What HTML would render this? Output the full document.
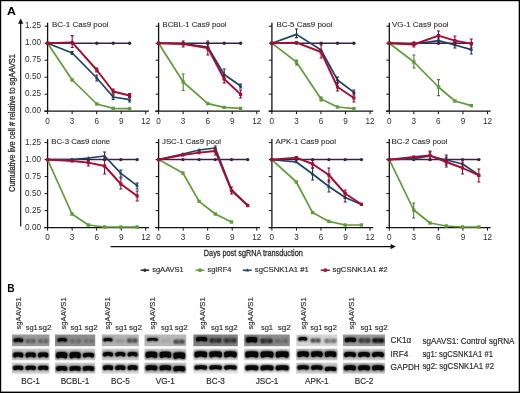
<!DOCTYPE html>
<html><head><meta charset="utf-8"><title>Figure</title><style>
html,body{margin:0;padding:0;background:#fff;}
body{width:520px;height:393px;overflow:hidden;}
svg{display:block;font-family:"Liberation Sans",sans-serif;will-change:transform;}
.tk{font-size:8.2px;fill:#2e2e2e;}
.ti{font-size:8.1px;fill:#2e2e2e;stroke:#2e2e2e;stroke-width:0.12px;}
.ln{font-size:7.9px;fill:#2e2e2e;stroke:#2e2e2e;stroke-width:0.15px;}
.bl{font-size:8.2px;fill:#2e2e2e;stroke:#2e2e2e;stroke-width:0.18px;}
.lg{font-size:7.6px;fill:#2e2e2e;stroke:#2e2e2e;stroke-width:0.15px;}
</style></head><body>
<svg width="520" height="393" viewBox="0 0 520 393">
<defs><filter id="bl" x="-20%" y="-40%" width="140%" height="180%"><feGaussianBlur stdDeviation="0.8"/></filter><filter id="bl2" x="-30%" y="-60%" width="160%" height="220%"><feGaussianBlur stdDeviation="0.9"/></filter></defs>
<rect width="520" height="393" fill="#fff"/>
<text transform="translate(6.9 14.6) scale(1.14 1)" font-size="10.8" font-weight="bold" fill="#000">A</text>
<text x="7.3" y="292" font-size="10.2" font-weight="bold" fill="#000">B</text>
<text class="yl" transform="translate(14.8 192) rotate(-90)" font-size="9.2" fill="#2e2e2e" stroke="#2e2e2e" stroke-width="0.3" textLength="138" lengthAdjust="spacingAndGlyphs">Cumulative live cell # relative to sgAAVS1</text>
<path d="M20.7 22.5V226.4" stroke="#111" stroke-width="1.2"/>
<path d="M20.7 18.6l2.6 5.2h-5.2z" fill="#111"/>
<path d="M47.6 22.7V111.2" stroke="#111" stroke-width="1.3"/>
<path d="M44.3 111.2H148.96" stroke="#111" stroke-width="1.3"/>
<path d="M44.6 111.2h3M44.6 94.2h3M44.6 77.2h3M44.6 60.2h3M44.6 43.2h3M44.6 26.2h3M47.6 111.2v3M72.14 111.2v3M96.68 111.2v3M121.22 111.2v3M145.76 111.2v3" stroke="#111" stroke-width="1"/>
<text x="47.6" y="123.5" text-anchor="middle" class="tk">0</text>
<text x="72.14" y="123.5" text-anchor="middle" class="tk">3</text>
<text x="96.68" y="123.5" text-anchor="middle" class="tk">6</text>
<text x="121.22" y="123.5" text-anchor="middle" class="tk">9</text>
<text x="145.76" y="123.5" text-anchor="middle" class="tk">12</text>
<text x="41" y="113.3" text-anchor="end" class="tk">0.00</text>
<text x="41" y="96.3" text-anchor="end" class="tk">0.25</text>
<text x="41" y="79.3" text-anchor="end" class="tk">0.50</text>
<text x="41" y="62.3" text-anchor="end" class="tk">0.75</text>
<text x="41" y="45.3" text-anchor="end" class="tk">1.00</text>
<text x="41" y="28.3" text-anchor="end" class="tk">1.25</text>
<text x="52" y="27" class="ti" textLength="56.4" lengthAdjust="spacingAndGlyphs">BC-1 Cas9 pool</text>
<path d="M47.6 43.2 L72.2 80 L96.8 104 L113.2 108.4 L129.6 108.6" fill="none" stroke="#619b3b" stroke-width="1.7" stroke-linejoin="round"/>
<rect x="45.9" y="41.5" width="3.4" height="3.4" fill="#619b3b"/>
<rect x="70.5" y="78.3" width="3.4" height="3.4" fill="#619b3b"/>
<rect x="95.1" y="102.3" width="3.4" height="3.4" fill="#619b3b"/>
<rect x="111.5" y="106.7" width="3.4" height="3.4" fill="#619b3b"/>
<rect x="127.9" y="106.9" width="3.4" height="3.4" fill="#619b3b"/>
<path d="M47.6 43.2 L72.2 43.2 L96.8 43.2 L113.2 43.2 L129.6 43.2" fill="none" stroke="#3a2244" stroke-width="1.5" stroke-linejoin="round"/>
<circle cx="47.6" cy="43.2" r="1.7" fill="#3a2244"/>
<circle cx="72.2" cy="43.2" r="1.7" fill="#3a2244"/>
<circle cx="96.8" cy="43.2" r="1.7" fill="#3a2244"/>
<circle cx="113.2" cy="43.2" r="1.7" fill="#3a2244"/>
<circle cx="129.6" cy="43.2" r="1.7" fill="#3a2244"/>
<path d="M47.6 43.2 L72.2 53 L96.8 78 L113.2 97 L129.6 99.6" fill="none" stroke="#1f4264" stroke-width="1.7" stroke-linejoin="round"/>
<path d="M47.6 41.2l1.9 3.2h-3.8z" fill="#1f4264"/>
<path d="M72.2 51.5V54.5M70.7 51.5h3M70.7 54.5h3" stroke="#18334e" stroke-width="1.05" fill="none"/>
<path d="M72.2 51l1.9 3.2h-3.8z" fill="#1f4264"/>
<path d="M96.8 75V81M95.3 75h3M95.3 81h3" stroke="#18334e" stroke-width="1.05" fill="none"/>
<path d="M96.8 76l1.9 3.2h-3.8z" fill="#1f4264"/>
<path d="M113.2 95V99.5M111.7 95h3M111.7 99.5h3" stroke="#18334e" stroke-width="1.05" fill="none"/>
<path d="M113.2 95l1.9 3.2h-3.8z" fill="#1f4264"/>
<path d="M129.6 97.5V102M128.1 97.5h3M128.1 102h3" stroke="#18334e" stroke-width="1.05" fill="none"/>
<path d="M129.6 97.6l1.9 3.2h-3.8z" fill="#1f4264"/>
<path d="M47.6 43.2 L72.2 42.4 L96.8 70 L113.2 91.5 L129.6 95.5" fill="none" stroke="#a60d34" stroke-width="1.9" stroke-linejoin="round"/>
<rect x="46" y="41.6" width="3.2" height="3.2" fill="#a60d34"/>
<path d="M72.2 35.6V47.5M70.7 35.6h3M70.7 47.5h3" stroke="#810a28" stroke-width="1.05" fill="none"/>
<rect x="70.6" y="40.8" width="3.2" height="3.2" fill="#a60d34"/>
<path d="M96.8 68V72M95.3 68h3M95.3 72h3" stroke="#810a28" stroke-width="1.05" fill="none"/>
<rect x="95.2" y="68.4" width="3.2" height="3.2" fill="#a60d34"/>
<path d="M113.2 89V94M111.7 89h3M111.7 94h3" stroke="#810a28" stroke-width="1.05" fill="none"/>
<rect x="111.6" y="89.9" width="3.2" height="3.2" fill="#a60d34"/>
<path d="M129.6 93.5V97.5M128.1 93.5h3M128.1 97.5h3" stroke="#810a28" stroke-width="1.05" fill="none"/>
<rect x="128" y="93.9" width="3.2" height="3.2" fill="#a60d34"/>
<path d="M158.6 22.7V111.2" stroke="#111" stroke-width="1.3"/>
<path d="M155.3 111.2H259.96" stroke="#111" stroke-width="1.3"/>
<path d="M155.6 111.2h3M155.6 94.2h3M155.6 77.2h3M155.6 60.2h3M155.6 43.2h3M155.6 26.2h3M158.6 111.2v3M183.14 111.2v3M207.68 111.2v3M232.22 111.2v3M256.76 111.2v3" stroke="#111" stroke-width="1"/>
<text x="158.6" y="123.5" text-anchor="middle" class="tk">0</text>
<text x="183.14" y="123.5" text-anchor="middle" class="tk">3</text>
<text x="207.68" y="123.5" text-anchor="middle" class="tk">6</text>
<text x="232.22" y="123.5" text-anchor="middle" class="tk">9</text>
<text x="256.76" y="123.5" text-anchor="middle" class="tk">12</text>
<text x="162.6" y="27" class="ti" textLength="64" lengthAdjust="spacingAndGlyphs">BCBL-1 Cas9 pool</text>
<path d="M158.6 43.2 L183.2 82 L207.8 103.6 L224.2 107.4 L240.6 108.4" fill="none" stroke="#619b3b" stroke-width="1.7" stroke-linejoin="round"/>
<rect x="156.9" y="41.5" width="3.4" height="3.4" fill="#619b3b"/>
<path d="M183.2 74V90.4M181.7 74h3M181.7 90.4h3" stroke="#4b782e" stroke-width="1.05" fill="none"/>
<rect x="181.5" y="80.3" width="3.4" height="3.4" fill="#619b3b"/>
<rect x="206.1" y="101.9" width="3.4" height="3.4" fill="#619b3b"/>
<rect x="222.5" y="105.7" width="3.4" height="3.4" fill="#619b3b"/>
<rect x="238.9" y="106.7" width="3.4" height="3.4" fill="#619b3b"/>
<path d="M158.6 43.2 L183.2 43.2 L207.8 43.2 L224.2 43.2 L240.6 43.2" fill="none" stroke="#3a2244" stroke-width="1.5" stroke-linejoin="round"/>
<circle cx="158.6" cy="43.2" r="1.7" fill="#3a2244"/>
<circle cx="183.2" cy="43.2" r="1.7" fill="#3a2244"/>
<circle cx="207.8" cy="43.2" r="1.7" fill="#3a2244"/>
<circle cx="224.2" cy="43.2" r="1.7" fill="#3a2244"/>
<circle cx="240.6" cy="43.2" r="1.7" fill="#3a2244"/>
<path d="M158.6 43.2 L183.2 43.5 L207.8 47 L224.2 74.5 L240.6 86" fill="none" stroke="#1f4264" stroke-width="1.7" stroke-linejoin="round"/>
<path d="M158.6 41.2l1.9 3.2h-3.8z" fill="#1f4264"/>
<path d="M183.2 41.5l1.9 3.2h-3.8z" fill="#1f4264"/>
<path d="M207.8 44V50M206.3 44h3M206.3 50h3" stroke="#18334e" stroke-width="1.05" fill="none"/>
<path d="M207.8 45l1.9 3.2h-3.8z" fill="#1f4264"/>
<path d="M224.2 69V79M222.7 69h3M222.7 79h3" stroke="#18334e" stroke-width="1.05" fill="none"/>
<path d="M224.2 72.5l1.9 3.2h-3.8z" fill="#1f4264"/>
<path d="M240.6 84V88M239.1 84h3M239.1 88h3" stroke="#18334e" stroke-width="1.05" fill="none"/>
<path d="M240.6 84l1.9 3.2h-3.8z" fill="#1f4264"/>
<path d="M158.6 43.2 L183.2 44 L207.8 48 L224.2 79 L240.6 94.4" fill="none" stroke="#a60d34" stroke-width="1.9" stroke-linejoin="round"/>
<rect x="157" y="41.6" width="3.2" height="3.2" fill="#a60d34"/>
<path d="M183.2 41V47M181.7 41h3M181.7 47h3" stroke="#810a28" stroke-width="1.05" fill="none"/>
<rect x="181.6" y="42.4" width="3.2" height="3.2" fill="#a60d34"/>
<path d="M207.8 41V55M206.3 41h3M206.3 55h3" stroke="#810a28" stroke-width="1.05" fill="none"/>
<rect x="206.2" y="46.4" width="3.2" height="3.2" fill="#a60d34"/>
<path d="M224.2 75V83M222.7 75h3M222.7 83h3" stroke="#810a28" stroke-width="1.05" fill="none"/>
<rect x="222.6" y="77.4" width="3.2" height="3.2" fill="#a60d34"/>
<path d="M240.6 90V98M239.1 90h3M239.1 98h3" stroke="#810a28" stroke-width="1.05" fill="none"/>
<rect x="239" y="92.8" width="3.2" height="3.2" fill="#a60d34"/>
<path d="M271.9 22.7V111.2" stroke="#111" stroke-width="1.3"/>
<path d="M268.6 111.2H373.26" stroke="#111" stroke-width="1.3"/>
<path d="M268.9 111.2h3M268.9 94.2h3M268.9 77.2h3M268.9 60.2h3M268.9 43.2h3M268.9 26.2h3M271.9 111.2v3M296.44 111.2v3M320.98 111.2v3M345.52 111.2v3M370.06 111.2v3" stroke="#111" stroke-width="1"/>
<text x="271.9" y="123.5" text-anchor="middle" class="tk">0</text>
<text x="296.44" y="123.5" text-anchor="middle" class="tk">3</text>
<text x="320.98" y="123.5" text-anchor="middle" class="tk">6</text>
<text x="345.52" y="123.5" text-anchor="middle" class="tk">9</text>
<text x="370.06" y="123.5" text-anchor="middle" class="tk">12</text>
<text x="276.4" y="27" class="ti" textLength="56" lengthAdjust="spacingAndGlyphs">BC-5 Cas9 pool</text>
<path d="M271.9 43.2 L296.5 62.2 L321.1 99 L337.5 107 L353.9 108.6" fill="none" stroke="#619b3b" stroke-width="1.7" stroke-linejoin="round"/>
<rect x="270.2" y="41.5" width="3.4" height="3.4" fill="#619b3b"/>
<path d="M296.5 60V65M295 60h3M295 65h3" stroke="#4b782e" stroke-width="1.05" fill="none"/>
<rect x="294.8" y="60.5" width="3.4" height="3.4" fill="#619b3b"/>
<path d="M321.1 97V101M319.6 97h3M319.6 101h3" stroke="#4b782e" stroke-width="1.05" fill="none"/>
<rect x="319.4" y="97.3" width="3.4" height="3.4" fill="#619b3b"/>
<rect x="335.8" y="105.3" width="3.4" height="3.4" fill="#619b3b"/>
<rect x="352.2" y="106.9" width="3.4" height="3.4" fill="#619b3b"/>
<path d="M271.9 43.2 L296.5 43.2 L321.1 43.2 L337.5 43.2 L353.9 43.2" fill="none" stroke="#3a2244" stroke-width="1.5" stroke-linejoin="round"/>
<circle cx="271.9" cy="43.2" r="1.7" fill="#3a2244"/>
<circle cx="296.5" cy="43.2" r="1.7" fill="#3a2244"/>
<circle cx="321.1" cy="43.2" r="1.7" fill="#3a2244"/>
<circle cx="337.5" cy="43.2" r="1.7" fill="#3a2244"/>
<circle cx="353.9" cy="43.2" r="1.7" fill="#3a2244"/>
<path d="M271.9 43.2 L296.5 34.4 L321.1 50 L337.5 80 L353.9 92.4" fill="none" stroke="#1f4264" stroke-width="1.7" stroke-linejoin="round"/>
<path d="M271.9 41.2l1.9 3.2h-3.8z" fill="#1f4264"/>
<path d="M296.5 29V37.6M295 29h3M295 37.6h3" stroke="#18334e" stroke-width="1.05" fill="none"/>
<path d="M296.5 32.4l1.9 3.2h-3.8z" fill="#1f4264"/>
<path d="M321.1 48l1.9 3.2h-3.8z" fill="#1f4264"/>
<path d="M337.5 77V83M336 77h3M336 83h3" stroke="#18334e" stroke-width="1.05" fill="none"/>
<path d="M337.5 78l1.9 3.2h-3.8z" fill="#1f4264"/>
<path d="M353.9 90V95M352.4 90h3M352.4 95h3" stroke="#18334e" stroke-width="1.05" fill="none"/>
<path d="M353.9 90.4l1.9 3.2h-3.8z" fill="#1f4264"/>
<path d="M271.9 43.2 L296.5 42.6 L321.1 52 L337.5 87 L353.9 98" fill="none" stroke="#a60d34" stroke-width="1.9" stroke-linejoin="round"/>
<rect x="270.3" y="41.6" width="3.2" height="3.2" fill="#a60d34"/>
<rect x="294.9" y="41" width="3.2" height="3.2" fill="#a60d34"/>
<path d="M321.1 45V58M319.6 45h3M319.6 58h3" stroke="#810a28" stroke-width="1.05" fill="none"/>
<rect x="319.5" y="50.4" width="3.2" height="3.2" fill="#a60d34"/>
<path d="M337.5 83V91M336 83h3M336 91h3" stroke="#810a28" stroke-width="1.05" fill="none"/>
<rect x="335.9" y="85.4" width="3.2" height="3.2" fill="#a60d34"/>
<path d="M353.9 93V102M352.4 93h3M352.4 102h3" stroke="#810a28" stroke-width="1.05" fill="none"/>
<rect x="352.3" y="96.4" width="3.2" height="3.2" fill="#a60d34"/>
<path d="M389.3 22.7V111.2" stroke="#111" stroke-width="1.3"/>
<path d="M386 111.2H490.66" stroke="#111" stroke-width="1.3"/>
<path d="M386.3 111.2h3M386.3 94.2h3M386.3 77.2h3M386.3 60.2h3M386.3 43.2h3M386.3 26.2h3M389.3 111.2v3M413.84 111.2v3M438.38 111.2v3M462.92 111.2v3M487.46 111.2v3" stroke="#111" stroke-width="1"/>
<text x="389.3" y="123.5" text-anchor="middle" class="tk">0</text>
<text x="413.84" y="123.5" text-anchor="middle" class="tk">3</text>
<text x="438.38" y="123.5" text-anchor="middle" class="tk">6</text>
<text x="462.92" y="123.5" text-anchor="middle" class="tk">9</text>
<text x="487.46" y="123.5" text-anchor="middle" class="tk">12</text>
<text x="392" y="27" class="ti" textLength="56.6" lengthAdjust="spacingAndGlyphs">VG-1 Cas9 pool</text>
<path d="M389.3 43.2 L413.9 62 L438.5 87 L454.9 101 L471.3 105.6" fill="none" stroke="#619b3b" stroke-width="1.7" stroke-linejoin="round"/>
<rect x="387.6" y="41.5" width="3.4" height="3.4" fill="#619b3b"/>
<path d="M413.9 55V68M412.4 55h3M412.4 68h3" stroke="#4b782e" stroke-width="1.05" fill="none"/>
<rect x="412.2" y="60.3" width="3.4" height="3.4" fill="#619b3b"/>
<path d="M438.5 79.6V95.6M437 79.6h3M437 95.6h3" stroke="#4b782e" stroke-width="1.05" fill="none"/>
<rect x="436.8" y="85.3" width="3.4" height="3.4" fill="#619b3b"/>
<rect x="453.2" y="99.3" width="3.4" height="3.4" fill="#619b3b"/>
<rect x="469.6" y="103.9" width="3.4" height="3.4" fill="#619b3b"/>
<path d="M389.3 43.2 L413.9 43.2 L438.5 43.2 L454.9 43.2 L471.3 43.2" fill="none" stroke="#3a2244" stroke-width="1.5" stroke-linejoin="round"/>
<circle cx="389.3" cy="43.2" r="1.7" fill="#3a2244"/>
<circle cx="413.9" cy="43.2" r="1.7" fill="#3a2244"/>
<circle cx="438.5" cy="43.2" r="1.7" fill="#3a2244"/>
<circle cx="454.9" cy="43.2" r="1.7" fill="#3a2244"/>
<circle cx="471.3" cy="43.2" r="1.7" fill="#3a2244"/>
<path d="M389.3 43.2 L413.9 44 L438.5 40.6 L454.9 45 L471.3 49.6" fill="none" stroke="#1f4264" stroke-width="1.7" stroke-linejoin="round"/>
<path d="M389.3 41.2l1.9 3.2h-3.8z" fill="#1f4264"/>
<path d="M413.9 42l1.9 3.2h-3.8z" fill="#1f4264"/>
<path d="M438.5 38V43M437 38h3M437 43h3" stroke="#18334e" stroke-width="1.05" fill="none"/>
<path d="M438.5 38.6l1.9 3.2h-3.8z" fill="#1f4264"/>
<path d="M454.9 41V48M453.4 41h3M453.4 48h3" stroke="#18334e" stroke-width="1.05" fill="none"/>
<path d="M454.9 43l1.9 3.2h-3.8z" fill="#1f4264"/>
<path d="M471.3 45V54M469.8 45h3M469.8 54h3" stroke="#18334e" stroke-width="1.05" fill="none"/>
<path d="M471.3 47.6l1.9 3.2h-3.8z" fill="#1f4264"/>
<path d="M389.3 43.2 L413.9 44.5 L438.5 35.6 L454.9 40.6 L471.3 43.6" fill="none" stroke="#a60d34" stroke-width="1.9" stroke-linejoin="round"/>
<rect x="387.7" y="41.6" width="3.2" height="3.2" fill="#a60d34"/>
<path d="M413.9 42V47M412.4 42h3M412.4 47h3" stroke="#810a28" stroke-width="1.05" fill="none"/>
<rect x="412.3" y="42.9" width="3.2" height="3.2" fill="#a60d34"/>
<path d="M438.5 31V40M437 31h3M437 40h3" stroke="#810a28" stroke-width="1.05" fill="none"/>
<rect x="436.9" y="34" width="3.2" height="3.2" fill="#a60d34"/>
<path d="M454.9 36V45M453.4 36h3M453.4 45h3" stroke="#810a28" stroke-width="1.05" fill="none"/>
<rect x="453.3" y="39" width="3.2" height="3.2" fill="#a60d34"/>
<path d="M471.3 39V48M469.8 39h3M469.8 48h3" stroke="#810a28" stroke-width="1.05" fill="none"/>
<rect x="469.7" y="42" width="3.2" height="3.2" fill="#a60d34"/>
<path d="M47.6 139.1V227.6" stroke="#111" stroke-width="1.3"/>
<path d="M44.3 227.6H148.96" stroke="#111" stroke-width="1.3"/>
<path d="M44.6 227.6h3M44.6 210.6h3M44.6 193.6h3M44.6 176.6h3M44.6 159.6h3M44.6 142.6h3M47.6 227.6v3M72.14 227.6v3M96.68 227.6v3M121.22 227.6v3M145.76 227.6v3" stroke="#111" stroke-width="1"/>
<text x="47.6" y="239.9" text-anchor="middle" class="tk">0</text>
<text x="72.14" y="239.9" text-anchor="middle" class="tk">3</text>
<text x="96.68" y="239.9" text-anchor="middle" class="tk">6</text>
<text x="121.22" y="239.9" text-anchor="middle" class="tk">9</text>
<text x="145.76" y="239.9" text-anchor="middle" class="tk">12</text>
<text x="41" y="230.3" text-anchor="end" class="tk">0.00</text>
<text x="41" y="213.3" text-anchor="end" class="tk">0.25</text>
<text x="41" y="196.3" text-anchor="end" class="tk">0.50</text>
<text x="41" y="179.3" text-anchor="end" class="tk">0.75</text>
<text x="41" y="162.3" text-anchor="end" class="tk">1.00</text>
<text x="41" y="145.3" text-anchor="end" class="tk">1.25</text>
<text x="51.2" y="144.4" class="ti" textLength="59" lengthAdjust="spacingAndGlyphs">BC-3 Cas9 clone</text>
<path d="M47.6 159.6 L72.02 214 L88.3 225 L104.58 227 L120.86 227 L137.14 227" fill="none" stroke="#619b3b" stroke-width="1.7" stroke-linejoin="round"/>
<rect x="45.9" y="157.9" width="3.4" height="3.4" fill="#619b3b"/>
<rect x="70.32" y="212.3" width="3.4" height="3.4" fill="#619b3b"/>
<rect x="86.6" y="223.3" width="3.4" height="3.4" fill="#619b3b"/>
<rect x="102.88" y="225.3" width="3.4" height="3.4" fill="#619b3b"/>
<rect x="119.16" y="225.3" width="3.4" height="3.4" fill="#619b3b"/>
<rect x="135.44" y="225.3" width="3.4" height="3.4" fill="#619b3b"/>
<path d="M47.6 159.6 L72.02 159.6 L88.3 159.6 L104.58 159.6 L120.86 159.6 L137.14 159.6" fill="none" stroke="#3a2244" stroke-width="1.5" stroke-linejoin="round"/>
<circle cx="47.6" cy="159.6" r="1.7" fill="#3a2244"/>
<circle cx="72.02" cy="159.6" r="1.7" fill="#3a2244"/>
<circle cx="88.3" cy="159.6" r="1.7" fill="#3a2244"/>
<circle cx="104.58" cy="159.6" r="1.7" fill="#3a2244"/>
<circle cx="120.86" cy="159.6" r="1.7" fill="#3a2244"/>
<circle cx="137.14" cy="159.6" r="1.7" fill="#3a2244"/>
<path d="M47.6 159.6 L72.02 159.6 L88.3 158 L104.58 156 L120.86 173.4 L137.14 185.6" fill="none" stroke="#1f4264" stroke-width="1.7" stroke-linejoin="round"/>
<path d="M47.6 157.6l1.9 3.2h-3.8z" fill="#1f4264"/>
<path d="M72.02 157.6l1.9 3.2h-3.8z" fill="#1f4264"/>
<path d="M88.3 156l1.9 3.2h-3.8z" fill="#1f4264"/>
<path d="M104.58 152V160M103.08 152h3M103.08 160h3" stroke="#18334e" stroke-width="1.05" fill="none"/>
<path d="M104.58 154l1.9 3.2h-3.8z" fill="#1f4264"/>
<path d="M120.86 170V177M119.36 170h3M119.36 177h3" stroke="#18334e" stroke-width="1.05" fill="none"/>
<path d="M120.86 171.4l1.9 3.2h-3.8z" fill="#1f4264"/>
<path d="M137.14 183V189M135.64 183h3M135.64 189h3" stroke="#18334e" stroke-width="1.05" fill="none"/>
<path d="M137.14 183.6l1.9 3.2h-3.8z" fill="#1f4264"/>
<path d="M47.6 159.6 L72.02 161 L88.3 162.6 L104.58 166 L120.86 184 L137.14 196" fill="none" stroke="#a60d34" stroke-width="1.9" stroke-linejoin="round"/>
<rect x="46" y="158" width="3.2" height="3.2" fill="#a60d34"/>
<rect x="70.42" y="159.4" width="3.2" height="3.2" fill="#a60d34"/>
<path d="M88.3 160V166M86.8 160h3M86.8 166h3" stroke="#810a28" stroke-width="1.05" fill="none"/>
<rect x="86.7" y="161" width="3.2" height="3.2" fill="#a60d34"/>
<path d="M104.58 158V174M103.08 158h3M103.08 174h3" stroke="#810a28" stroke-width="1.05" fill="none"/>
<rect x="102.98" y="164.4" width="3.2" height="3.2" fill="#a60d34"/>
<path d="M120.86 178V189M119.36 178h3M119.36 189h3" stroke="#810a28" stroke-width="1.05" fill="none"/>
<rect x="119.26" y="182.4" width="3.2" height="3.2" fill="#a60d34"/>
<path d="M137.14 191V201M135.64 191h3M135.64 201h3" stroke="#810a28" stroke-width="1.05" fill="none"/>
<rect x="135.54" y="194.4" width="3.2" height="3.2" fill="#a60d34"/>
<path d="M158.6 139.1V227.6" stroke="#111" stroke-width="1.3"/>
<path d="M155.3 227.6H259.96" stroke="#111" stroke-width="1.3"/>
<path d="M155.6 227.6h3M155.6 210.6h3M155.6 193.6h3M155.6 176.6h3M155.6 159.6h3M155.6 142.6h3M158.6 227.6v3M183.14 227.6v3M207.68 227.6v3M232.22 227.6v3M256.76 227.6v3" stroke="#111" stroke-width="1"/>
<text x="158.6" y="239.9" text-anchor="middle" class="tk">0</text>
<text x="183.14" y="239.9" text-anchor="middle" class="tk">3</text>
<text x="207.68" y="239.9" text-anchor="middle" class="tk">6</text>
<text x="232.22" y="239.9" text-anchor="middle" class="tk">9</text>
<text x="256.76" y="239.9" text-anchor="middle" class="tk">12</text>
<text x="162" y="144.4" class="ti" textLength="59" lengthAdjust="spacingAndGlyphs">JSC-1 Cas9 pool</text>
<path d="M158.6 159.6 L182.9 173 L199.1 201.4 L215.3 214 L231.5 222" fill="none" stroke="#619b3b" stroke-width="1.7" stroke-linejoin="round"/>
<rect x="156.9" y="157.9" width="3.4" height="3.4" fill="#619b3b"/>
<rect x="181.2" y="171.3" width="3.4" height="3.4" fill="#619b3b"/>
<rect x="197.4" y="199.7" width="3.4" height="3.4" fill="#619b3b"/>
<rect x="213.6" y="212.3" width="3.4" height="3.4" fill="#619b3b"/>
<rect x="229.8" y="220.3" width="3.4" height="3.4" fill="#619b3b"/>
<path d="M158.6 159.6 L182.9 159.6 L199.1 159.6 L215.3 159.6 L231.5 159.6 L247.7 159.6" fill="none" stroke="#3a2244" stroke-width="1.5" stroke-linejoin="round"/>
<circle cx="158.6" cy="159.6" r="1.7" fill="#3a2244"/>
<circle cx="182.9" cy="159.6" r="1.7" fill="#3a2244"/>
<circle cx="199.1" cy="159.6" r="1.7" fill="#3a2244"/>
<circle cx="215.3" cy="159.6" r="1.7" fill="#3a2244"/>
<circle cx="231.5" cy="159.6" r="1.7" fill="#3a2244"/>
<circle cx="247.7" cy="159.6" r="1.7" fill="#3a2244"/>
<path d="M158.6 159.6 L182.9 154 L199.1 150 L215.3 148 L231.5 189.6 L247.7 205" fill="none" stroke="#1f4264" stroke-width="1.7" stroke-linejoin="round"/>
<path d="M158.6 157.6l1.9 3.2h-3.8z" fill="#1f4264"/>
<path d="M182.9 152l1.9 3.2h-3.8z" fill="#1f4264"/>
<path d="M199.1 148l1.9 3.2h-3.8z" fill="#1f4264"/>
<path d="M215.3 146V150M213.8 146h3M213.8 150h3" stroke="#18334e" stroke-width="1.05" fill="none"/>
<path d="M215.3 146l1.9 3.2h-3.8z" fill="#1f4264"/>
<path d="M231.5 187.6l1.9 3.2h-3.8z" fill="#1f4264"/>
<path d="M247.7 203l1.9 3.2h-3.8z" fill="#1f4264"/>
<path d="M158.6 159.6 L182.9 155 L199.1 152.6 L215.3 151 L231.5 190.6 L247.7 205.6" fill="none" stroke="#a60d34" stroke-width="1.9" stroke-linejoin="round"/>
<rect x="157" y="158" width="3.2" height="3.2" fill="#a60d34"/>
<rect x="181.3" y="153.4" width="3.2" height="3.2" fill="#a60d34"/>
<rect x="197.5" y="151" width="3.2" height="3.2" fill="#a60d34"/>
<path d="M215.3 148V155M213.8 148h3M213.8 155h3" stroke="#810a28" stroke-width="1.05" fill="none"/>
<rect x="213.7" y="149.4" width="3.2" height="3.2" fill="#a60d34"/>
<path d="M231.5 187V194M230 187h3M230 194h3" stroke="#810a28" stroke-width="1.05" fill="none"/>
<rect x="229.9" y="189" width="3.2" height="3.2" fill="#a60d34"/>
<rect x="246.1" y="204" width="3.2" height="3.2" fill="#a60d34"/>
<path d="M271.9 139.1V227.6" stroke="#111" stroke-width="1.3"/>
<path d="M268.6 227.6H373.26" stroke="#111" stroke-width="1.3"/>
<path d="M268.9 227.6h3M268.9 210.6h3M268.9 193.6h3M268.9 176.6h3M268.9 159.6h3M268.9 142.6h3M271.9 227.6v3M296.44 227.6v3M320.98 227.6v3M345.52 227.6v3M370.06 227.6v3" stroke="#111" stroke-width="1"/>
<text x="271.9" y="239.9" text-anchor="middle" class="tk">0</text>
<text x="296.44" y="239.9" text-anchor="middle" class="tk">3</text>
<text x="320.98" y="239.9" text-anchor="middle" class="tk">6</text>
<text x="345.52" y="239.9" text-anchor="middle" class="tk">9</text>
<text x="370.06" y="239.9" text-anchor="middle" class="tk">12</text>
<text x="275.6" y="144.4" class="ti" textLength="60.4" lengthAdjust="spacingAndGlyphs">APK-1 Cas9 pool</text>
<path d="M271.9 159.6 L296.32 182 L312.6 212.6 L328.88 221.4 L345.16 225 L361.44 225" fill="none" stroke="#619b3b" stroke-width="1.7" stroke-linejoin="round"/>
<rect x="270.2" y="157.9" width="3.4" height="3.4" fill="#619b3b"/>
<rect x="294.62" y="180.3" width="3.4" height="3.4" fill="#619b3b"/>
<rect x="310.9" y="210.9" width="3.4" height="3.4" fill="#619b3b"/>
<rect x="327.18" y="219.7" width="3.4" height="3.4" fill="#619b3b"/>
<rect x="343.46" y="223.3" width="3.4" height="3.4" fill="#619b3b"/>
<rect x="359.74" y="223.3" width="3.4" height="3.4" fill="#619b3b"/>
<path d="M271.9 159.6 L296.32 159.6 L312.6 159.6 L328.88 159.6 L345.16 159.6 L361.44 159.6" fill="none" stroke="#3a2244" stroke-width="1.5" stroke-linejoin="round"/>
<circle cx="271.9" cy="159.6" r="1.7" fill="#3a2244"/>
<circle cx="296.32" cy="159.6" r="1.7" fill="#3a2244"/>
<circle cx="312.6" cy="159.6" r="1.7" fill="#3a2244"/>
<circle cx="328.88" cy="159.6" r="1.7" fill="#3a2244"/>
<circle cx="345.16" cy="159.6" r="1.7" fill="#3a2244"/>
<circle cx="361.44" cy="159.6" r="1.7" fill="#3a2244"/>
<path d="M271.9 159.6 L296.32 162 L312.6 174 L328.88 186.5 L345.16 197.5 L361.44 204.5" fill="none" stroke="#1f4264" stroke-width="1.7" stroke-linejoin="round"/>
<path d="M271.9 157.6l1.9 3.2h-3.8z" fill="#1f4264"/>
<path d="M296.32 160l1.9 3.2h-3.8z" fill="#1f4264"/>
<path d="M312.6 168V180M311.1 168h3M311.1 180h3" stroke="#18334e" stroke-width="1.05" fill="none"/>
<path d="M312.6 172l1.9 3.2h-3.8z" fill="#1f4264"/>
<path d="M328.88 180V192M327.38 180h3M327.38 192h3" stroke="#18334e" stroke-width="1.05" fill="none"/>
<path d="M328.88 184.5l1.9 3.2h-3.8z" fill="#1f4264"/>
<path d="M345.16 193V202M343.66 193h3M343.66 202h3" stroke="#18334e" stroke-width="1.05" fill="none"/>
<path d="M345.16 195.5l1.9 3.2h-3.8z" fill="#1f4264"/>
<path d="M361.44 202.5l1.9 3.2h-3.8z" fill="#1f4264"/>
<path d="M271.9 159.6 L296.32 157.6 L312.6 164 L328.88 175 L345.16 193.5 L361.44 204.3" fill="none" stroke="#a60d34" stroke-width="1.9" stroke-linejoin="round"/>
<rect x="270.3" y="158" width="3.2" height="3.2" fill="#a60d34"/>
<rect x="294.72" y="156" width="3.2" height="3.2" fill="#a60d34"/>
<path d="M312.6 160V168M311.1 160h3M311.1 168h3" stroke="#810a28" stroke-width="1.05" fill="none"/>
<rect x="311" y="162.4" width="3.2" height="3.2" fill="#a60d34"/>
<path d="M328.88 168V182M327.38 168h3M327.38 182h3" stroke="#810a28" stroke-width="1.05" fill="none"/>
<rect x="327.28" y="173.4" width="3.2" height="3.2" fill="#a60d34"/>
<path d="M345.16 190V198M343.66 190h3M343.66 198h3" stroke="#810a28" stroke-width="1.05" fill="none"/>
<rect x="343.56" y="191.9" width="3.2" height="3.2" fill="#a60d34"/>
<rect x="359.84" y="202.7" width="3.2" height="3.2" fill="#a60d34"/>
<path d="M389.3 139.1V227.6" stroke="#111" stroke-width="1.3"/>
<path d="M386 227.6H490.66" stroke="#111" stroke-width="1.3"/>
<path d="M386.3 227.6h3M386.3 210.6h3M386.3 193.6h3M386.3 176.6h3M386.3 159.6h3M386.3 142.6h3M389.3 227.6v3M413.84 227.6v3M438.38 227.6v3M462.92 227.6v3M487.46 227.6v3" stroke="#111" stroke-width="1"/>
<text x="389.3" y="239.9" text-anchor="middle" class="tk">0</text>
<text x="413.84" y="239.9" text-anchor="middle" class="tk">3</text>
<text x="438.38" y="239.9" text-anchor="middle" class="tk">6</text>
<text x="462.92" y="239.9" text-anchor="middle" class="tk">9</text>
<text x="487.46" y="239.9" text-anchor="middle" class="tk">12</text>
<text x="391.4" y="144.4" class="ti" textLength="56" lengthAdjust="spacingAndGlyphs">BC-2 Cas9 pool</text>
<path d="M389.3 159.6 L413.72 210 L430 223 L446.28 226 L462.56 227 L478.84 227" fill="none" stroke="#619b3b" stroke-width="1.7" stroke-linejoin="round"/>
<rect x="387.6" y="157.9" width="3.4" height="3.4" fill="#619b3b"/>
<path d="M413.72 203V218M412.22 203h3M412.22 218h3" stroke="#4b782e" stroke-width="1.05" fill="none"/>
<rect x="412.02" y="208.3" width="3.4" height="3.4" fill="#619b3b"/>
<rect x="428.3" y="221.3" width="3.4" height="3.4" fill="#619b3b"/>
<rect x="444.58" y="224.3" width="3.4" height="3.4" fill="#619b3b"/>
<rect x="460.86" y="225.3" width="3.4" height="3.4" fill="#619b3b"/>
<rect x="477.14" y="225.3" width="3.4" height="3.4" fill="#619b3b"/>
<path d="M389.3 159.6 L413.72 159.6 L430 159.6 L446.28 159.6 L462.56 159.6 L478.84 159.6" fill="none" stroke="#3a2244" stroke-width="1.5" stroke-linejoin="round"/>
<circle cx="389.3" cy="159.6" r="1.7" fill="#3a2244"/>
<circle cx="413.72" cy="159.6" r="1.7" fill="#3a2244"/>
<circle cx="430" cy="159.6" r="1.7" fill="#3a2244"/>
<circle cx="446.28" cy="159.6" r="1.7" fill="#3a2244"/>
<circle cx="462.56" cy="159.6" r="1.7" fill="#3a2244"/>
<circle cx="478.84" cy="159.6" r="1.7" fill="#3a2244"/>
<path d="M389.3 159.6 L413.72 158.6 L430 156 L446.28 160 L462.56 164 L478.84 175" fill="none" stroke="#1f4264" stroke-width="1.7" stroke-linejoin="round"/>
<path d="M389.3 157.6l1.9 3.2h-3.8z" fill="#1f4264"/>
<path d="M413.72 156.6l1.9 3.2h-3.8z" fill="#1f4264"/>
<path d="M430 152V160M428.5 152h3M428.5 160h3" stroke="#18334e" stroke-width="1.05" fill="none"/>
<path d="M430 154l1.9 3.2h-3.8z" fill="#1f4264"/>
<path d="M446.28 155V165M444.78 155h3M444.78 165h3" stroke="#18334e" stroke-width="1.05" fill="none"/>
<path d="M446.28 158l1.9 3.2h-3.8z" fill="#1f4264"/>
<path d="M462.56 162l1.9 3.2h-3.8z" fill="#1f4264"/>
<path d="M478.84 173l1.9 3.2h-3.8z" fill="#1f4264"/>
<path d="M389.3 159.6 L413.72 157 L430 155.4 L446.28 162 L462.56 168 L478.84 175.4" fill="none" stroke="#a60d34" stroke-width="1.9" stroke-linejoin="round"/>
<rect x="387.7" y="158" width="3.2" height="3.2" fill="#a60d34"/>
<rect x="412.12" y="155.4" width="3.2" height="3.2" fill="#a60d34"/>
<path d="M430 151V160M428.5 151h3M428.5 160h3" stroke="#810a28" stroke-width="1.05" fill="none"/>
<rect x="428.4" y="153.8" width="3.2" height="3.2" fill="#a60d34"/>
<path d="M446.28 157V167M444.78 157h3M444.78 167h3" stroke="#810a28" stroke-width="1.05" fill="none"/>
<rect x="444.68" y="160.4" width="3.2" height="3.2" fill="#a60d34"/>
<path d="M462.56 162V174M461.06 162h3M461.06 174h3" stroke="#810a28" stroke-width="1.05" fill="none"/>
<rect x="460.96" y="166.4" width="3.2" height="3.2" fill="#a60d34"/>
<path d="M478.84 169V182M477.34 169h3M477.34 182h3" stroke="#810a28" stroke-width="1.05" fill="none"/>
<rect x="477.24" y="173.8" width="3.2" height="3.2" fill="#a60d34"/>
<path d="M110.5 246.6H392" stroke="#111" stroke-width="1.2"/>
<path d="M395.8 246.6l-5.2 -2.6v5.2z" fill="#111"/>
<text x="203.8" y="256.3" font-size="9.2" fill="#2e2e2e" stroke="#2e2e2e" stroke-width="0.3" textLength="99" lengthAdjust="spacingAndGlyphs">Days post sgRNA transduction</text>
<path d="M140.6 270.2H149.2" stroke="#3a2244" stroke-width="1.5"/>
<circle cx="144.9" cy="270.2" r="1.7" fill="#3a2244"/>
<text class="lg" x="152.2" y="272.2" textLength="31.6" lengthAdjust="spacingAndGlyphs">sgAAVS1</text>
<path d="M195.6 270.2H204.4" stroke="#619b3b" stroke-width="1.5"/>
<rect x="198.3" y="268.5" width="3.4" height="3.4" fill="#619b3b"/>
<text class="lg" x="207.5" y="272.2" textLength="23.8" lengthAdjust="spacingAndGlyphs">sgIRF4</text>
<path d="M242.8 270.2H251.6" stroke="#1f4264" stroke-width="1.5"/>
<path d="M247.2 268.2l1.9 3.2h-3.8z" fill="#1f4264"/>
<text class="lg" x="254.8" y="272.2" textLength="54" lengthAdjust="spacingAndGlyphs">sgCSNK1A1 #1</text>
<path d="M320.8 270.2H329.8" stroke="#a60d34" stroke-width="1.5"/>
<rect x="323.7" y="268.6" width="3.2" height="3.2" fill="#a60d34"/>
<text class="lg" x="332.5" y="272.2" textLength="55" lengthAdjust="spacingAndGlyphs">sgCSNK1A1 #2</text>
<rect x="12" y="334.5" width="37.4" height="11.7" fill="#9a9a9a"/>
<rect x="12" y="348.6" width="37.4" height="11.7" fill="#c6c6c6"/>
<rect x="12" y="362.6" width="37.4" height="11" fill="#d0d0d0"/>
<g fill="#0a0a0a"><path d="M15.2 338Q18.4 337.72 21.6 338Q23.6 338 23.6 340V340.6Q23.6 342.6 21.6 342.6Q18.4 341.2 15.2 342.6Q13.2 342.6 13.2 340.6V340Q13.2 338 15.2 338Z" filter="url(#bl)" opacity="0.8"/><path d="M15.6 338.4Q18.4 338.12 21.2 338.4Q23.2 338.4 23.2 340.4V340.2Q23.2 342.2 21.2 342.2Q18.4 340.8 15.6 342.2Q13.6 342.2 13.6 340.2V340.4Q13.6 338.4 15.6 338.4Z"/></g>
<rect x="25.8" y="338.7" width="9.8" height="4.6" rx="1.8" fill="#6e6e6e" filter="url(#bl2)"/>
<ellipse cx="27.8" cy="341" rx="1.6" ry="1.5" fill="#505050" filter="url(#bl)"/>
<ellipse cx="33.6" cy="341" rx="1.6" ry="1.5" fill="#505050" filter="url(#bl)"/>
<rect x="38" y="338.7" width="10.4" height="4.6" rx="1.8" fill="#737373" filter="url(#bl2)"/>
<ellipse cx="40" cy="341" rx="1.6" ry="1.5" fill="#555555" filter="url(#bl)"/>
<ellipse cx="46.4" cy="341" rx="1.6" ry="1.5" fill="#555555" filter="url(#bl)"/>
<g fill="#080808"><path d="M14.9 352.2Q18.23 351.8 21.57 352.2Q23.77 352.2 23.77 354.4V355.8Q23.77 358 21.57 358Q18.23 356 14.9 358Q12.7 358 12.7 355.8V354.4Q12.7 352.2 14.9 352.2Z" filter="url(#bl)" opacity="0.8"/><path d="M15.3 352.6Q18.23 352.2 21.17 352.6Q23.37 352.6 23.37 354.8V355.4Q23.37 357.6 21.17 357.6Q18.23 355.6 15.3 357.6Q13.1 357.6 13.1 355.4V354.8Q13.1 352.6 15.3 352.6Z"/></g>
<g fill="#080808"><path d="M14.7 365.4Q18.23 365.08 21.77 365.4Q23.77 365.4 23.77 367.4V368.6Q23.77 370.6 21.77 370.6Q18.23 369 14.7 370.6Q12.7 370.6 12.7 368.6V367.4Q12.7 365.4 14.7 365.4Z" filter="url(#bl)" opacity="0.8"/><path d="M15.1 365.8Q18.23 365.48 21.37 365.8Q23.37 365.8 23.37 367.8V368.2Q23.37 370.2 21.37 370.2Q18.23 368.6 15.1 370.2Q13.1 370.2 13.1 368.2V367.8Q13.1 365.8 15.1 365.8Z"/></g>
<g fill="#080808"><path d="M27.37 352.2Q30.7 351.8 34.03 352.2Q36.23 352.2 36.23 354.4V355.8Q36.23 358 34.03 358Q30.7 356 27.37 358Q25.17 358 25.17 355.8V354.4Q25.17 352.2 27.37 352.2Z" filter="url(#bl)" opacity="0.8"/><path d="M27.77 352.6Q30.7 352.2 33.63 352.6Q35.83 352.6 35.83 354.8V355.4Q35.83 357.6 33.63 357.6Q30.7 355.6 27.77 357.6Q25.57 357.6 25.57 355.4V354.8Q25.57 352.6 27.77 352.6Z"/></g>
<g fill="#080808"><path d="M27.17 365.4Q30.7 365.08 34.23 365.4Q36.23 365.4 36.23 367.4V368.6Q36.23 370.6 34.23 370.6Q30.7 369 27.17 370.6Q25.17 370.6 25.17 368.6V367.4Q25.17 365.4 27.17 365.4Z" filter="url(#bl)" opacity="0.8"/><path d="M27.57 365.8Q30.7 365.48 33.83 365.8Q35.83 365.8 35.83 367.8V368.2Q35.83 370.2 33.83 370.2Q30.7 368.6 27.57 370.2Q25.57 370.2 25.57 368.2V367.8Q25.57 365.8 27.57 365.8Z"/></g>
<g fill="#080808"><path d="M39.83 352.2Q43.17 351.8 46.5 352.2Q48.7 352.2 48.7 354.4V355.8Q48.7 358 46.5 358Q43.17 356 39.83 358Q37.63 358 37.63 355.8V354.4Q37.63 352.2 39.83 352.2Z" filter="url(#bl)" opacity="0.8"/><path d="M40.23 352.6Q43.17 352.2 46.1 352.6Q48.3 352.6 48.3 354.8V355.4Q48.3 357.6 46.1 357.6Q43.17 355.6 40.23 357.6Q38.03 357.6 38.03 355.4V354.8Q38.03 352.6 40.23 352.6Z"/></g>
<g fill="#080808"><path d="M39.63 365.4Q43.17 365.08 46.7 365.4Q48.7 365.4 48.7 367.4V368.6Q48.7 370.6 46.7 370.6Q43.17 369 39.63 370.6Q37.63 370.6 37.63 368.6V367.4Q37.63 365.4 39.63 365.4Z" filter="url(#bl)" opacity="0.8"/><path d="M40.03 365.8Q43.17 365.48 46.3 365.8Q48.3 365.8 48.3 367.8V368.2Q48.3 370.2 46.3 370.2Q43.17 368.6 40.03 370.2Q38.03 370.2 38.03 368.2V367.8Q38.03 365.8 40.03 365.8Z"/></g>
<text class="ln" transform="translate(20.9 329.5) rotate(-90)" textLength="32.2" lengthAdjust="spacingAndGlyphs">sgAAVS1</text>
<text class="ln" x="25.7" y="329.8" textLength="12.1" lengthAdjust="spacingAndGlyphs">sg1</text>
<text class="ln" x="38.6" y="329.8" textLength="13.0" lengthAdjust="spacingAndGlyphs">sg2</text>
<text class="bl" x="30.6" y="383.8" text-anchor="middle">BC-1</text>
<rect x="55" y="334.5" width="40.2" height="11.7" fill="#8e8e8e"/>
<rect x="55" y="348.6" width="40.2" height="11.7" fill="#c8c8c8"/>
<rect x="55" y="362.6" width="40.2" height="11" fill="#cacaca"/>
<g fill="#0a0a0a"><path d="M59 337.8Q62.2 337.52 65.4 337.8Q67.4 337.8 67.4 339.8V340.2Q67.4 342.2 65.4 342.2Q62.2 340.8 59 342.2Q57 342.2 57 340.2V339.8Q57 337.8 59 337.8Z" filter="url(#bl)" opacity="0.8"/><path d="M59.4 338.2Q62.2 337.92 65 338.2Q67 338.2 67 340.2V339.8Q67 341.8 65 341.8Q62.2 340.4 59.4 341.8Q57.4 341.8 57.4 339.8V340.2Q57.4 338.2 59.4 338.2Z"/></g>
<rect x="70" y="338.7" width="11" height="4.6" rx="1.8" fill="#787878" filter="url(#bl2)"/>
<ellipse cx="72" cy="341" rx="1.6" ry="1.5" fill="#5a5a5a" filter="url(#bl)"/>
<ellipse cx="79" cy="341" rx="1.6" ry="1.5" fill="#5a5a5a" filter="url(#bl)"/>
<rect x="84" y="338.7" width="10" height="4.6" rx="1.8" fill="#7d7d7d" filter="url(#bl2)"/>
<ellipse cx="86" cy="341" rx="1.6" ry="1.5" fill="#5f5f5f" filter="url(#bl)"/>
<ellipse cx="92" cy="341" rx="1.6" ry="1.5" fill="#5f5f5f" filter="url(#bl)"/>
<g fill="#080808"><path d="M57.9 351.8Q61.7 351.4 65.5 351.8Q67.7 351.8 67.7 354V356.6Q67.7 358.8 65.5 358.8Q61.7 356.8 57.9 358.8Q55.7 358.8 55.7 356.6V354Q55.7 351.8 57.9 351.8Z" filter="url(#bl)" opacity="0.8"/><path d="M58.3 352.2Q61.7 351.8 65.1 352.2Q67.3 352.2 67.3 354.4V356.2Q67.3 358.4 65.1 358.4Q61.7 356.4 58.3 358.4Q56.1 358.4 56.1 356.2V354.4Q56.1 352.2 58.3 352.2Z"/></g>
<g fill="#080808"><path d="M57.7 365.8Q61.7 365.48 65.7 365.8Q67.7 365.8 67.7 367.8V369.4Q67.7 371.4 65.7 371.4Q61.7 369.8 57.7 371.4Q55.7 371.4 55.7 369.4V367.8Q55.7 365.8 57.7 365.8Z" filter="url(#bl)" opacity="0.8"/><path d="M58.1 366.2Q61.7 365.88 65.3 366.2Q67.3 366.2 67.3 368.2V369Q67.3 371 65.3 371Q61.7 369.4 58.1 371Q56.1 371 56.1 369V368.2Q56.1 366.2 58.1 366.2Z"/></g>
<g fill="#080808"><path d="M71.3 351.8Q75.1 351.4 78.9 351.8Q81.1 351.8 81.1 354V356.6Q81.1 358.8 78.9 358.8Q75.1 356.8 71.3 358.8Q69.1 358.8 69.1 356.6V354Q69.1 351.8 71.3 351.8Z" filter="url(#bl)" opacity="0.8"/><path d="M71.7 352.2Q75.1 351.8 78.5 352.2Q80.7 352.2 80.7 354.4V356.2Q80.7 358.4 78.5 358.4Q75.1 356.4 71.7 358.4Q69.5 358.4 69.5 356.2V354.4Q69.5 352.2 71.7 352.2Z"/></g>
<g fill="#080808"><path d="M71.1 365.8Q75.1 365.48 79.1 365.8Q81.1 365.8 81.1 367.8V369.4Q81.1 371.4 79.1 371.4Q75.1 369.8 71.1 371.4Q69.1 371.4 69.1 369.4V367.8Q69.1 365.8 71.1 365.8Z" filter="url(#bl)" opacity="0.8"/><path d="M71.5 366.2Q75.1 365.88 78.7 366.2Q80.7 366.2 80.7 368.2V369Q80.7 371 78.7 371Q75.1 369.4 71.5 371Q69.5 371 69.5 369V368.2Q69.5 366.2 71.5 366.2Z"/></g>
<g fill="#080808"><path d="M84.7 352.6Q88.5 352.2 92.3 352.6Q94.5 352.6 94.5 354.8V355.8Q94.5 358 92.3 358Q88.5 356 84.7 358Q82.5 358 82.5 355.8V354.8Q82.5 352.6 84.7 352.6Z" filter="url(#bl)" opacity="0.8"/><path d="M85.1 353Q88.5 352.6 91.9 353Q94.1 353 94.1 355.2V355.4Q94.1 357.6 91.9 357.6Q88.5 355.6 85.1 357.6Q82.9 357.6 82.9 355.4V355.2Q82.9 353 85.1 353Z"/></g>
<g fill="#080808"><path d="M84.5 365.8Q88.5 365.48 92.5 365.8Q94.5 365.8 94.5 367.8V369.4Q94.5 371.4 92.5 371.4Q88.5 369.8 84.5 371.4Q82.5 371.4 82.5 369.4V367.8Q82.5 365.8 84.5 365.8Z" filter="url(#bl)" opacity="0.8"/><path d="M84.9 366.2Q88.5 365.88 92.1 366.2Q94.1 366.2 94.1 368.2V369Q94.1 371 92.1 371Q88.5 369.4 84.9 371Q82.9 371 82.9 369V368.2Q82.9 366.2 84.9 366.2Z"/></g>
<text class="ln" transform="translate(65.9 329.5) rotate(-90)" textLength="32.2" lengthAdjust="spacingAndGlyphs">sgAAVS1</text>
<text class="ln" x="70.4" y="329.8" textLength="12.1" lengthAdjust="spacingAndGlyphs">sg1</text>
<text class="ln" x="84.8" y="329.8" textLength="13.0" lengthAdjust="spacingAndGlyphs">sg2</text>
<text class="bl" x="75" y="383.8" text-anchor="middle">BCBL-1</text>
<rect x="101.9" y="334.5" width="36.9" height="11.7" fill="#b2b2b2"/>
<rect x="101.9" y="348.6" width="36.9" height="11.7" fill="#cacaca"/>
<rect x="101.9" y="362.6" width="36.9" height="11" fill="#d6d6d6"/>
<g fill="#0a0a0a"><path d="M104.8 337.8Q107.9 337.52 111 337.8Q113 337.8 113 339.8V339.8Q113 341.8 111 341.8Q107.9 340.4 104.8 341.8Q102.8 341.8 102.8 339.8V339.8Q102.8 337.8 104.8 337.8Z" filter="url(#bl)" opacity="0.8"/><path d="M105.2 338.2Q107.9 337.92 110.6 338.2Q112.6 338.2 112.6 340.2V339.4Q112.6 341.4 110.6 341.4Q107.9 340 105.2 341.4Q103.2 341.4 103.2 339.4V340.2Q103.2 338.2 105.2 338.2Z"/></g>
<rect x="115" y="338.7" width="10" height="4" rx="1.8" fill="#969696" filter="url(#bl2)"/>
<rect x="127" y="338.5" width="10.4" height="4.2" rx="1.8" fill="#5f5f5f" filter="url(#bl2)"/>
<ellipse cx="129" cy="340.6" rx="1.6" ry="1.5" fill="#414141" filter="url(#bl)"/>
<ellipse cx="135.4" cy="340.6" rx="1.6" ry="1.5" fill="#414141" filter="url(#bl)"/>
<g fill="#080808"><path d="M104.8 351.8Q108.05 351.4 111.3 351.8Q113.5 351.8 113.5 354V354.8Q113.5 357 111.3 357Q108.05 355 104.8 357Q102.6 357 102.6 354.8V354Q102.6 351.8 104.8 351.8Z" filter="url(#bl)" opacity="0.8"/><path d="M105.2 352.2Q108.05 351.8 110.9 352.2Q113.1 352.2 113.1 354.4V354.4Q113.1 356.6 110.9 356.6Q108.05 354.6 105.2 356.6Q103 356.6 103 354.4V354.4Q103 352.2 105.2 352.2Z"/></g>
<g fill="#080808"><path d="M104.6 365Q108.05 364.68 111.5 365Q113.5 365 113.5 367V368.6Q113.5 370.6 111.5 370.6Q108.05 369 104.6 370.6Q102.6 370.6 102.6 368.6V367Q102.6 365 104.6 365Z" filter="url(#bl)" opacity="0.8"/><path d="M105 365.4Q108.05 365.08 111.1 365.4Q113.1 365.4 113.1 367.4V368.2Q113.1 370.2 111.1 370.2Q108.05 368.6 105 370.2Q103 370.2 103 368.2V367.4Q103 365.4 105 365.4Z"/></g>
<g fill="#080808"><path d="M117.1 351.8Q120.35 351.4 123.6 351.8Q125.8 351.8 125.8 354V354.8Q125.8 357 123.6 357Q120.35 355 117.1 357Q114.9 357 114.9 354.8V354Q114.9 351.8 117.1 351.8Z" filter="url(#bl)" opacity="0.8"/><path d="M117.5 352.2Q120.35 351.8 123.2 352.2Q125.4 352.2 125.4 354.4V354.4Q125.4 356.6 123.2 356.6Q120.35 354.6 117.5 356.6Q115.3 356.6 115.3 354.4V354.4Q115.3 352.2 117.5 352.2Z"/></g>
<g fill="#080808"><path d="M116.9 365Q120.35 364.68 123.8 365Q125.8 365 125.8 367V368.6Q125.8 370.6 123.8 370.6Q120.35 369 116.9 370.6Q114.9 370.6 114.9 368.6V367Q114.9 365 116.9 365Z" filter="url(#bl)" opacity="0.8"/><path d="M117.3 365.4Q120.35 365.08 123.4 365.4Q125.4 365.4 125.4 367.4V368.2Q125.4 370.2 123.4 370.2Q120.35 368.6 117.3 370.2Q115.3 370.2 115.3 368.2V367.4Q115.3 365.4 117.3 365.4Z"/></g>
<g fill="#080808"><path d="M129.4 351.8Q132.65 351.4 135.9 351.8Q138.1 351.8 138.1 354V354.8Q138.1 357 135.9 357Q132.65 355 129.4 357Q127.2 357 127.2 354.8V354Q127.2 351.8 129.4 351.8Z" filter="url(#bl)" opacity="0.8"/><path d="M129.8 352.2Q132.65 351.8 135.5 352.2Q137.7 352.2 137.7 354.4V354.4Q137.7 356.6 135.5 356.6Q132.65 354.6 129.8 356.6Q127.6 356.6 127.6 354.4V354.4Q127.6 352.2 129.8 352.2Z"/></g>
<g fill="#080808"><path d="M129.2 365Q132.65 364.68 136.1 365Q138.1 365 138.1 367V368.6Q138.1 370.6 136.1 370.6Q132.65 369 129.2 370.6Q127.2 370.6 127.2 368.6V367Q127.2 365 129.2 365Z" filter="url(#bl)" opacity="0.8"/><path d="M129.6 365.4Q132.65 365.08 135.7 365.4Q137.7 365.4 137.7 367.4V368.2Q137.7 370.2 135.7 370.2Q132.65 368.6 129.6 370.2Q127.6 370.2 127.6 368.2V367.4Q127.6 365.4 129.6 365.4Z"/></g>
<text class="ln" transform="translate(110.2 329.5) rotate(-90)" textLength="32.2" lengthAdjust="spacingAndGlyphs">sgAAVS1</text>
<text class="ln" x="115.3" y="329.8" textLength="12.1" lengthAdjust="spacingAndGlyphs">sg1</text>
<text class="ln" x="129.1" y="329.8" textLength="13.0" lengthAdjust="spacingAndGlyphs">sg2</text>
<text class="bl" x="120.4" y="383.8" text-anchor="middle">BC-5</text>
<rect x="144.5" y="334.5" width="41.7" height="11.7" fill="#b8b8b8"/>
<rect x="144.5" y="348.6" width="41.7" height="11.7" fill="#cacaca"/>
<rect x="144.5" y="362.6" width="41.7" height="11" fill="#c8c8c8"/>
<g fill="#0a0a0a"><path d="M148.6 337.8Q152.5 337.52 156.4 337.8Q158.4 337.8 158.4 339.8V339.4Q158.4 341.4 156.4 341.4Q152.5 340 148.6 341.4Q146.6 341.4 146.6 339.4V339.8Q146.6 337.8 148.6 337.8Z" filter="url(#bl)" opacity="0.8"/><path d="M149 338.2Q152.5 337.92 156 338.2Q158 338.2 158 340.2V339Q158 341 156 341Q152.5 339.6 149 341Q147 341 147 339V340.2Q147 338.2 149 338.2Z"/></g>
<rect x="160.5" y="338.7" width="11" height="4.1" rx="1.8" fill="#a5a5a5" filter="url(#bl2)"/>
<rect x="173.6" y="339.5" width="11" height="4.4" rx="1.8" fill="#5a5a5a" filter="url(#bl2)"/>
<ellipse cx="175.6" cy="341.7" rx="1.6" ry="1.5" fill="#3c3c3c" filter="url(#bl)"/>
<ellipse cx="182.6" cy="341.7" rx="1.6" ry="1.5" fill="#3c3c3c" filter="url(#bl)"/>
<g fill="#080808"><path d="M147.4 351.4Q151.45 351 155.5 351.4Q157.7 351.4 157.7 353.6V356.2Q157.7 358.4 155.5 358.4Q151.45 356.4 147.4 358.4Q145.2 358.4 145.2 356.2V353.6Q145.2 351.4 147.4 351.4Z" filter="url(#bl)" opacity="0.8"/><path d="M147.8 351.8Q151.45 351.4 155.1 351.8Q157.3 351.8 157.3 354V355.8Q157.3 358 155.1 358Q151.45 356 147.8 358Q145.6 358 145.6 355.8V354Q145.6 351.8 147.8 351.8Z"/></g>
<g fill="#080808"><path d="M147.2 365Q151.45 364.68 155.7 365Q157.7 365 157.7 367V369Q157.7 371 155.7 371Q151.45 369.4 147.2 371Q145.2 371 145.2 369V367Q145.2 365 147.2 365Z" filter="url(#bl)" opacity="0.8"/><path d="M147.6 365.4Q151.45 365.08 155.3 365.4Q157.3 365.4 157.3 367.4V368.6Q157.3 370.6 155.3 370.6Q151.45 369 147.6 370.6Q145.6 370.6 145.6 368.6V367.4Q145.6 365.4 147.6 365.4Z"/></g>
<g fill="#080808"><path d="M161.3 351.4Q165.35 351 169.4 351.4Q171.6 351.4 171.6 353.6V356.2Q171.6 358.4 169.4 358.4Q165.35 356.4 161.3 358.4Q159.1 358.4 159.1 356.2V353.6Q159.1 351.4 161.3 351.4Z" filter="url(#bl)" opacity="0.8"/><path d="M161.7 351.8Q165.35 351.4 169 351.8Q171.2 351.8 171.2 354V355.8Q171.2 358 169 358Q165.35 356 161.7 358Q159.5 358 159.5 355.8V354Q159.5 351.8 161.7 351.8Z"/></g>
<g fill="#080808"><path d="M161.1 365Q165.35 364.68 169.6 365Q171.6 365 171.6 367V369Q171.6 371 169.6 371Q165.35 369.4 161.1 371Q159.1 371 159.1 369V367Q159.1 365 161.1 365Z" filter="url(#bl)" opacity="0.8"/><path d="M161.5 365.4Q165.35 365.08 169.2 365.4Q171.2 365.4 171.2 367.4V368.6Q171.2 370.6 169.2 370.6Q165.35 369 161.5 370.6Q159.5 370.6 159.5 368.6V367.4Q159.5 365.4 161.5 365.4Z"/></g>
<g fill="#080808"><path d="M175.2 352Q179.25 351.6 183.3 352Q185.5 352 185.5 354.2V357.2Q185.5 359.4 183.3 359.4Q179.25 357.4 175.2 359.4Q173 359.4 173 357.2V354.2Q173 352 175.2 352Z" filter="url(#bl)" opacity="0.8"/><path d="M175.6 352.4Q179.25 352 182.9 352.4Q185.1 352.4 185.1 354.6V356.8Q185.1 359 182.9 359Q179.25 357 175.6 359Q173.4 359 173.4 356.8V354.6Q173.4 352.4 175.6 352.4Z"/></g>
<g fill="#080808"><path d="M175 365.8Q179.25 365.48 183.5 365.8Q185.5 365.8 185.5 367.8V370Q185.5 372 183.5 372Q179.25 370.4 175 372Q173 372 173 370V367.8Q173 365.8 175 365.8Z" filter="url(#bl)" opacity="0.8"/><path d="M175.4 366.2Q179.25 365.88 183.1 366.2Q185.1 366.2 185.1 368.2V369.6Q185.1 371.6 183.1 371.6Q179.25 370 175.4 371.6Q173.4 371.6 173.4 369.6V368.2Q173.4 366.2 175.4 366.2Z"/></g>
<text class="ln" transform="translate(155.3 329.5) rotate(-90)" textLength="32.2" lengthAdjust="spacingAndGlyphs">sgAAVS1</text>
<text class="ln" x="161.1" y="329.8" textLength="12.1" lengthAdjust="spacingAndGlyphs">sg1</text>
<text class="ln" x="174.8" y="329.8" textLength="13.0" lengthAdjust="spacingAndGlyphs">sg2</text>
<text class="bl" x="165.3" y="383.8" text-anchor="middle">VG-1</text>
<rect x="193.4" y="334.5" width="44.4" height="11.7" fill="#808080"/>
<rect x="193.4" y="348.6" width="44.4" height="11.7" fill="#d4d4d4"/>
<rect x="193.4" y="362.6" width="44.4" height="11" fill="#e6e6e6"/>
<g fill="#050505"><path d="M197.6 336.8Q201.6 336.52 205.6 336.8Q207.6 336.8 207.6 338.8V339.8Q207.6 341.8 205.6 341.8Q201.6 340.4 197.6 341.8Q195.6 341.8 195.6 339.8V338.8Q195.6 336.8 197.6 336.8Z" filter="url(#bl)" opacity="0.8"/><path d="M198 337.2Q201.6 336.92 205.2 337.2Q207.2 337.2 207.2 339.2V339.4Q207.2 341.4 205.2 341.4Q201.6 340 198 341.4Q196 341.4 196 339.4V339.2Q196 337.2 198 337.2Z"/></g>
<rect x="209.6" y="338.3" width="12" height="4.4" rx="1.8" fill="#373737" filter="url(#bl2)"/>
<ellipse cx="211.6" cy="340.5" rx="1.6" ry="1.5" fill="#191919" filter="url(#bl)"/>
<ellipse cx="219.6" cy="340.5" rx="1.6" ry="1.5" fill="#191919" filter="url(#bl)"/>
<rect x="224" y="338.3" width="12.4" height="4.4" rx="1.8" fill="#3e3e3e" filter="url(#bl2)"/>
<ellipse cx="226" cy="340.5" rx="1.6" ry="1.5" fill="#202020" filter="url(#bl)"/>
<ellipse cx="234.4" cy="340.5" rx="1.6" ry="1.5" fill="#202020" filter="url(#bl)"/>
<g fill="#080808"><path d="M196.3 351Q200.8 350.6 205.3 351Q207.5 351 207.5 353.2V355.8Q207.5 358 205.3 358Q200.8 356 196.3 358Q194.1 358 194.1 355.8V353.2Q194.1 351 196.3 351Z" filter="url(#bl)" opacity="0.8"/><path d="M196.7 351.4Q200.8 351 204.9 351.4Q207.1 351.4 207.1 353.6V355.4Q207.1 357.6 204.9 357.6Q200.8 355.6 196.7 357.6Q194.5 357.6 194.5 355.4V353.6Q194.5 351.4 196.7 351.4Z"/></g>
<g fill="#080808"><path d="M196.1 365Q200.8 364.68 205.5 365Q207.5 365 207.5 367V368.2Q207.5 370.2 205.5 370.2Q200.8 368.6 196.1 370.2Q194.1 370.2 194.1 368.2V367Q194.1 365 196.1 365Z" filter="url(#bl)" opacity="0.8"/><path d="M196.5 365.4Q200.8 365.08 205.1 365.4Q207.1 365.4 207.1 367.4V367.8Q207.1 369.8 205.1 369.8Q200.8 368.2 196.5 369.8Q194.5 369.8 194.5 367.8V367.4Q194.5 365.4 196.5 365.4Z"/></g>
<g fill="#080808"><path d="M211.1 351Q215.6 350.6 220.1 351Q222.3 351 222.3 353.2V355.8Q222.3 358 220.1 358Q215.6 356 211.1 358Q208.9 358 208.9 355.8V353.2Q208.9 351 211.1 351Z" filter="url(#bl)" opacity="0.8"/><path d="M211.5 351.4Q215.6 351 219.7 351.4Q221.9 351.4 221.9 353.6V355.4Q221.9 357.6 219.7 357.6Q215.6 355.6 211.5 357.6Q209.3 357.6 209.3 355.4V353.6Q209.3 351.4 211.5 351.4Z"/></g>
<g fill="#080808"><path d="M210.9 365Q215.6 364.68 220.3 365Q222.3 365 222.3 367V368.2Q222.3 370.2 220.3 370.2Q215.6 368.6 210.9 370.2Q208.9 370.2 208.9 368.2V367Q208.9 365 210.9 365Z" filter="url(#bl)" opacity="0.8"/><path d="M211.3 365.4Q215.6 365.08 219.9 365.4Q221.9 365.4 221.9 367.4V367.8Q221.9 369.8 219.9 369.8Q215.6 368.2 211.3 369.8Q209.3 369.8 209.3 367.8V367.4Q209.3 365.4 211.3 365.4Z"/></g>
<g fill="#080808"><path d="M225.9 351Q230.4 350.6 234.9 351Q237.1 351 237.1 353.2V355.8Q237.1 358 234.9 358Q230.4 356 225.9 358Q223.7 358 223.7 355.8V353.2Q223.7 351 225.9 351Z" filter="url(#bl)" opacity="0.8"/><path d="M226.3 351.4Q230.4 351 234.5 351.4Q236.7 351.4 236.7 353.6V355.4Q236.7 357.6 234.5 357.6Q230.4 355.6 226.3 357.6Q224.1 357.6 224.1 355.4V353.6Q224.1 351.4 226.3 351.4Z"/></g>
<g fill="#080808"><path d="M225.7 365Q230.4 364.68 235.1 365Q237.1 365 237.1 367V368.2Q237.1 370.2 235.1 370.2Q230.4 368.6 225.7 370.2Q223.7 370.2 223.7 368.2V367Q223.7 365 225.7 365Z" filter="url(#bl)" opacity="0.8"/><path d="M226.1 365.4Q230.4 365.08 234.7 365.4Q236.7 365.4 236.7 367.4V367.8Q236.7 369.8 234.7 369.8Q230.4 368.2 226.1 369.8Q224.1 369.8 224.1 367.8V367.4Q224.1 365.4 226.1 365.4Z"/></g>
<text class="ln" transform="translate(204.7 329.5) rotate(-90)" textLength="32.2" lengthAdjust="spacingAndGlyphs">sgAAVS1</text>
<text class="ln" x="211.1" y="329.8" textLength="12.1" lengthAdjust="spacingAndGlyphs">sg1</text>
<text class="ln" x="224.8" y="329.8" textLength="13.0" lengthAdjust="spacingAndGlyphs">sg2</text>
<text class="bl" x="215.6" y="383.8" text-anchor="middle">BC-3</text>
<rect x="244.2" y="334.5" width="45.6" height="11.7" fill="#8c8c8c"/>
<rect x="244.2" y="348.6" width="45.6" height="11.7" fill="#d4d4d4"/>
<rect x="244.2" y="362.6" width="45.6" height="11" fill="#eaeaea"/>
<g fill="#050505"><path d="M247.8 336.8Q251.7 336.52 255.6 336.8Q257.6 336.8 257.6 338.8V341Q257.6 343 255.6 343Q251.7 341.6 247.8 343Q245.8 343 245.8 341V338.8Q245.8 336.8 247.8 336.8Z" filter="url(#bl)" opacity="0.8"/><path d="M248.2 337.2Q251.7 336.92 255.2 337.2Q257.2 337.2 257.2 339.2V340.6Q257.2 342.6 255.2 342.6Q251.7 341.2 248.2 342.6Q246.2 342.6 246.2 340.6V339.2Q246.2 337.2 248.2 337.2Z"/></g>
<rect x="260.4" y="338.5" width="12.2" height="4.8" rx="1.8" fill="#373737" filter="url(#bl2)"/>
<ellipse cx="262.4" cy="340.9" rx="1.6" ry="1.5" fill="#191919" filter="url(#bl)"/>
<ellipse cx="270.6" cy="340.9" rx="1.6" ry="1.5" fill="#191919" filter="url(#bl)"/>
<rect x="275" y="338.7" width="13" height="4.6" rx="1.8" fill="#737373" filter="url(#bl2)"/>
<ellipse cx="277" cy="341" rx="1.6" ry="1.5" fill="#555555" filter="url(#bl)"/>
<ellipse cx="286" cy="341" rx="1.6" ry="1.5" fill="#555555" filter="url(#bl)"/>
<g fill="#080808"><path d="M247.1 351Q251.8 350.6 256.5 351Q258.7 351 258.7 353.2V356Q258.7 358.2 256.5 358.2Q251.8 356.2 247.1 358.2Q244.9 358.2 244.9 356V353.2Q244.9 351 247.1 351Z" filter="url(#bl)" opacity="0.8"/><path d="M247.5 351.4Q251.8 351 256.1 351.4Q258.3 351.4 258.3 353.6V355.6Q258.3 357.8 256.1 357.8Q251.8 355.8 247.5 357.8Q245.3 357.8 245.3 355.6V353.6Q245.3 351.4 247.5 351.4Z"/></g>
<g fill="#080808"><path d="M246.9 365Q251.8 364.68 256.7 365Q258.7 365 258.7 367V369Q258.7 371 256.7 371Q251.8 369.4 246.9 371Q244.9 371 244.9 369V367Q244.9 365 246.9 365Z" filter="url(#bl)" opacity="0.8"/><path d="M247.3 365.4Q251.8 365.08 256.3 365.4Q258.3 365.4 258.3 367.4V368.6Q258.3 370.6 256.3 370.6Q251.8 369 247.3 370.6Q245.3 370.6 245.3 368.6V367.4Q245.3 365.4 247.3 365.4Z"/></g>
<g fill="#080808"><path d="M262.3 351Q267 350.6 271.7 351Q273.9 351 273.9 353.2V356Q273.9 358.2 271.7 358.2Q267 356.2 262.3 358.2Q260.1 358.2 260.1 356V353.2Q260.1 351 262.3 351Z" filter="url(#bl)" opacity="0.8"/><path d="M262.7 351.4Q267 351 271.3 351.4Q273.5 351.4 273.5 353.6V355.6Q273.5 357.8 271.3 357.8Q267 355.8 262.7 357.8Q260.5 357.8 260.5 355.6V353.6Q260.5 351.4 262.7 351.4Z"/></g>
<g fill="#080808"><path d="M262.1 365Q267 364.68 271.9 365Q273.9 365 273.9 367V369Q273.9 371 271.9 371Q267 369.4 262.1 371Q260.1 371 260.1 369V367Q260.1 365 262.1 365Z" filter="url(#bl)" opacity="0.8"/><path d="M262.5 365.4Q267 365.08 271.5 365.4Q273.5 365.4 273.5 367.4V368.6Q273.5 370.6 271.5 370.6Q267 369 262.5 370.6Q260.5 370.6 260.5 368.6V367.4Q260.5 365.4 262.5 365.4Z"/></g>
<g fill="#080808"><path d="M277.5 351Q282.2 350.6 286.9 351Q289.1 351 289.1 353.2V356Q289.1 358.2 286.9 358.2Q282.2 356.2 277.5 358.2Q275.3 358.2 275.3 356V353.2Q275.3 351 277.5 351Z" filter="url(#bl)" opacity="0.8"/><path d="M277.9 351.4Q282.2 351 286.5 351.4Q288.7 351.4 288.7 353.6V355.6Q288.7 357.8 286.5 357.8Q282.2 355.8 277.9 357.8Q275.7 357.8 275.7 355.6V353.6Q275.7 351.4 277.9 351.4Z"/></g>
<g fill="#080808"><path d="M277.3 365Q282.2 364.68 287.1 365Q289.1 365 289.1 367V369Q289.1 371 287.1 371Q282.2 369.4 277.3 371Q275.3 371 275.3 369V367Q275.3 365 277.3 365Z" filter="url(#bl)" opacity="0.8"/><path d="M277.7 365.4Q282.2 365.08 286.7 365.4Q288.7 365.4 288.7 367.4V368.6Q288.7 370.6 286.7 370.6Q282.2 369 277.7 370.6Q275.7 370.6 275.7 368.6V367.4Q275.7 365.4 277.7 365.4Z"/></g>
<text class="ln" transform="translate(253.3 329.5) rotate(-90)" textLength="32.2" lengthAdjust="spacingAndGlyphs">sgAAVS1</text>
<text class="ln" x="260.9" y="329.8" textLength="12.1" lengthAdjust="spacingAndGlyphs">sg1</text>
<text class="ln" x="277.8" y="329.8" textLength="13.0" lengthAdjust="spacingAndGlyphs">sg2</text>
<text class="bl" x="267" y="383.8" text-anchor="middle">JSC-1</text>
<rect x="296.3" y="334.5" width="41.1" height="11.7" fill="#d4d4d4"/>
<rect x="296.3" y="348.6" width="41.1" height="11.7" fill="#c4c4c4"/>
<rect x="296.3" y="362.6" width="41.1" height="11" fill="#cccccc"/>
<g fill="#0a0a0a"><path d="M299.8 336.8Q302.7 336.52 305.6 336.8Q307.6 336.8 307.6 338.8V339.2Q307.6 341.2 305.6 341.2Q302.7 339.8 299.8 341.2Q297.8 341.2 297.8 339.2V338.8Q297.8 336.8 299.8 336.8Z" filter="url(#bl)" opacity="0.8"/><path d="M300.2 337.2Q302.7 336.92 305.2 337.2Q307.2 337.2 307.2 339.2V338.8Q307.2 340.8 305.2 340.8Q302.7 339.4 300.2 340.8Q298.2 340.8 298.2 338.8V339.2Q298.2 337.2 300.2 337.2Z"/></g>
<rect x="310.6" y="338.5" width="10" height="4" rx="1.8" fill="#5a5a5a" filter="url(#bl2)"/>
<ellipse cx="312.6" cy="340.5" rx="1.6" ry="1.5" fill="#3c3c3c" filter="url(#bl)"/>
<ellipse cx="318.6" cy="340.5" rx="1.6" ry="1.5" fill="#3c3c3c" filter="url(#bl)"/>
<rect x="324.4" y="338.7" width="12" height="4.2" rx="1.8" fill="#828282" filter="url(#bl2)"/>
<ellipse cx="326.4" cy="340.8" rx="1.6" ry="1.5" fill="#646464" filter="url(#bl)"/>
<ellipse cx="334.4" cy="340.8" rx="1.6" ry="1.5" fill="#646464" filter="url(#bl)"/>
<g fill="#080808"><path d="M299.2 351Q303.15 350.6 307.1 351Q309.3 351 309.3 353.2V355.4Q309.3 357.6 307.1 357.6Q303.15 355.6 299.2 357.6Q297 357.6 297 355.4V353.2Q297 351 299.2 351Z" filter="url(#bl)" opacity="0.8"/><path d="M299.6 351.4Q303.15 351 306.7 351.4Q308.9 351.4 308.9 353.6V355Q308.9 357.2 306.7 357.2Q303.15 355.2 299.6 357.2Q297.4 357.2 297.4 355V353.6Q297.4 351.4 299.6 351.4Z"/></g>
<g fill="#080808"><path d="M299 365Q303.15 364.68 307.3 365Q309.3 365 309.3 367V368.2Q309.3 370.2 307.3 370.2Q303.15 368.6 299 370.2Q297 370.2 297 368.2V367Q297 365 299 365Z" filter="url(#bl)" opacity="0.8"/><path d="M299.4 365.4Q303.15 365.08 306.9 365.4Q308.9 365.4 308.9 367.4V367.8Q308.9 369.8 306.9 369.8Q303.15 368.2 299.4 369.8Q297.4 369.8 297.4 367.8V367.4Q297.4 365.4 299.4 365.4Z"/></g>
<g fill="#080808"><path d="M312.9 351Q316.85 350.6 320.8 351Q323 351 323 353.2V355.4Q323 357.6 320.8 357.6Q316.85 355.6 312.9 357.6Q310.7 357.6 310.7 355.4V353.2Q310.7 351 312.9 351Z" filter="url(#bl)" opacity="0.8"/><path d="M313.3 351.4Q316.85 351 320.4 351.4Q322.6 351.4 322.6 353.6V355Q322.6 357.2 320.4 357.2Q316.85 355.2 313.3 357.2Q311.1 357.2 311.1 355V353.6Q311.1 351.4 313.3 351.4Z"/></g>
<g fill="#080808"><path d="M312.7 365Q316.85 364.68 321 365Q323 365 323 367V368.4Q323 370.4 321 370.4Q316.85 368.8 312.7 370.4Q310.7 370.4 310.7 368.4V367Q310.7 365 312.7 365Z" filter="url(#bl)" opacity="0.8"/><path d="M313.1 365.4Q316.85 365.08 320.6 365.4Q322.6 365.4 322.6 367.4V368Q322.6 370 320.6 370Q316.85 368.4 313.1 370Q311.1 370 311.1 368V367.4Q311.1 365.4 313.1 365.4Z"/></g>
<g fill="#080808"><path d="M326.6 351Q330.55 350.6 334.5 351Q336.7 351 336.7 353.2V355.4Q336.7 357.6 334.5 357.6Q330.55 355.6 326.6 357.6Q324.4 357.6 324.4 355.4V353.2Q324.4 351 326.6 351Z" filter="url(#bl)" opacity="0.8"/><path d="M327 351.4Q330.55 351 334.1 351.4Q336.3 351.4 336.3 353.6V355Q336.3 357.2 334.1 357.2Q330.55 355.2 327 357.2Q324.8 357.2 324.8 355V353.6Q324.8 351.4 327 351.4Z"/></g>
<g fill="#080808"><path d="M326.4 366.6Q330.55 366.28 334.7 366.6Q336.7 366.6 336.7 368.6V369.6Q336.7 371.6 334.7 371.6Q330.55 370 326.4 371.6Q324.4 371.6 324.4 369.6V368.6Q324.4 366.6 326.4 366.6Z" filter="url(#bl)" opacity="0.8"/><path d="M326.8 367Q330.55 366.68 334.3 367Q336.3 367 336.3 369V369.2Q336.3 371.2 334.3 371.2Q330.55 369.6 326.8 371.2Q324.8 371.2 324.8 369.2V369Q324.8 367 326.8 367Z"/></g>
<text class="ln" transform="translate(305.8 329.5) rotate(-90)" textLength="32.2" lengthAdjust="spacingAndGlyphs">sgAAVS1</text>
<text class="ln" x="310.3" y="329.8" textLength="12.1" lengthAdjust="spacingAndGlyphs">sg1</text>
<text class="ln" x="324.1" y="329.8" textLength="13.0" lengthAdjust="spacingAndGlyphs">sg2</text>
<text class="bl" x="316.8" y="383.8" text-anchor="middle">APK-1</text>
<rect x="343" y="334.5" width="42" height="11.7" fill="#9c9c9c"/>
<rect x="343" y="348.6" width="42" height="11.7" fill="#cccccc"/>
<rect x="343" y="362.6" width="42" height="11" fill="#c4c4c4"/>
<g fill="#0a0a0a"><path d="M346.4 337.4Q350.4 337.12 354.4 337.4Q356.4 337.4 356.4 339.4V340.6Q356.4 342.6 354.4 342.6Q350.4 341.2 346.4 342.6Q344.4 342.6 344.4 340.6V339.4Q344.4 337.4 346.4 337.4Z" filter="url(#bl)" opacity="0.8"/><path d="M346.8 337.8Q350.4 337.52 354 337.8Q356 337.8 356 339.8V340.2Q356 342.2 354 342.2Q350.4 340.8 346.8 342.2Q344.8 342.2 344.8 340.2V339.8Q344.8 337.8 346.8 337.8Z"/></g>
<rect x="358.6" y="338.3" width="11.8" height="4.6" rx="1.8" fill="#464646" filter="url(#bl2)"/>
<ellipse cx="360.6" cy="340.6" rx="1.6" ry="1.5" fill="#282828" filter="url(#bl)"/>
<ellipse cx="368.4" cy="340.6" rx="1.6" ry="1.5" fill="#282828" filter="url(#bl)"/>
<rect x="372.4" y="337.9" width="11.6" height="5.2" rx="1.8" fill="#1e1e1e" filter="url(#bl2)"/>
<ellipse cx="374.4" cy="340.5" rx="1.6" ry="1.5" fill="#000000" filter="url(#bl)"/>
<ellipse cx="382" cy="340.5" rx="1.6" ry="1.5" fill="#000000" filter="url(#bl)"/>
<g fill="#080808"><path d="M345.9 351.8Q350 351.4 354.1 351.8Q356.3 351.8 356.3 354V355.4Q356.3 357.6 354.1 357.6Q350 355.6 345.9 357.6Q343.7 357.6 343.7 355.4V354Q343.7 351.8 345.9 351.8Z" filter="url(#bl)" opacity="0.8"/><path d="M346.3 352.2Q350 351.8 353.7 352.2Q355.9 352.2 355.9 354.4V355Q355.9 357.2 353.7 357.2Q350 355.2 346.3 357.2Q344.1 357.2 344.1 355V354.4Q344.1 352.2 346.3 352.2Z"/></g>
<g fill="#080808"><path d="M345.7 365Q350 364.68 354.3 365Q356.3 365 356.3 367V369Q356.3 371 354.3 371Q350 369.4 345.7 371Q343.7 371 343.7 369V367Q343.7 365 345.7 365Z" filter="url(#bl)" opacity="0.8"/><path d="M346.1 365.4Q350 365.08 353.9 365.4Q355.9 365.4 355.9 367.4V368.6Q355.9 370.6 353.9 370.6Q350 369 346.1 370.6Q344.1 370.6 344.1 368.6V367.4Q344.1 365.4 346.1 365.4Z"/></g>
<g fill="#080808"><path d="M359.9 351.8Q364 351.4 368.1 351.8Q370.3 351.8 370.3 354V355.4Q370.3 357.6 368.1 357.6Q364 355.6 359.9 357.6Q357.7 357.6 357.7 355.4V354Q357.7 351.8 359.9 351.8Z" filter="url(#bl)" opacity="0.8"/><path d="M360.3 352.2Q364 351.8 367.7 352.2Q369.9 352.2 369.9 354.4V355Q369.9 357.2 367.7 357.2Q364 355.2 360.3 357.2Q358.1 357.2 358.1 355V354.4Q358.1 352.2 360.3 352.2Z"/></g>
<g fill="#080808"><path d="M359.7 365Q364 364.68 368.3 365Q370.3 365 370.3 367V369Q370.3 371 368.3 371Q364 369.4 359.7 371Q357.7 371 357.7 369V367Q357.7 365 359.7 365Z" filter="url(#bl)" opacity="0.8"/><path d="M360.1 365.4Q364 365.08 367.9 365.4Q369.9 365.4 369.9 367.4V368.6Q369.9 370.6 367.9 370.6Q364 369 360.1 370.6Q358.1 370.6 358.1 368.6V367.4Q358.1 365.4 360.1 365.4Z"/></g>
<g fill="#080808"><path d="M373.9 351.8Q378 351.4 382.1 351.8Q384.3 351.8 384.3 354V355.4Q384.3 357.6 382.1 357.6Q378 355.6 373.9 357.6Q371.7 357.6 371.7 355.4V354Q371.7 351.8 373.9 351.8Z" filter="url(#bl)" opacity="0.8"/><path d="M374.3 352.2Q378 351.8 381.7 352.2Q383.9 352.2 383.9 354.4V355Q383.9 357.2 381.7 357.2Q378 355.2 374.3 357.2Q372.1 357.2 372.1 355V354.4Q372.1 352.2 374.3 352.2Z"/></g>
<g fill="#080808"><path d="M373.7 365Q378 364.68 382.3 365Q384.3 365 384.3 367V369Q384.3 371 382.3 371Q378 369.4 373.7 371Q371.7 371 371.7 369V367Q371.7 365 373.7 365Z" filter="url(#bl)" opacity="0.8"/><path d="M374.1 365.4Q378 365.08 381.9 365.4Q383.9 365.4 383.9 367.4V368.6Q383.9 370.6 381.9 370.6Q378 369 374.1 370.6Q372.1 370.6 372.1 368.6V367.4Q372.1 365.4 374.1 365.4Z"/></g>
<text class="ln" transform="translate(353.8 329.5) rotate(-90)" textLength="32.2" lengthAdjust="spacingAndGlyphs">sgAAVS1</text>
<text class="ln" x="360.4" y="329.8" textLength="12.1" lengthAdjust="spacingAndGlyphs">sg1</text>
<text class="ln" x="374.8" y="329.8" textLength="13.0" lengthAdjust="spacingAndGlyphs">sg2</text>
<text class="bl" x="364" y="383.8" text-anchor="middle">BC-2</text>
<text class="bl" x="390.6" y="343.3">CK1&#945;</text>
<text class="bl" x="390.6" y="357">IRF4</text>
<text class="bl" x="390.6" y="369.6">GAPDH</text>
<text class="bl" x="422.4" y="344.4" textLength="92" lengthAdjust="spacingAndGlyphs">sgAAVS1: Control sgRNA</text>
<text class="bl" x="422.4" y="356.8" textLength="70.6" lengthAdjust="spacingAndGlyphs">sg1: sgCSNK1A1 #1</text>
<text class="bl" x="422.4" y="369.4" textLength="71.6" lengthAdjust="spacingAndGlyphs">sg2: sgCSNK1A1 #2</text>
<rect x="0" y="0" width="520" height="1.2" fill="#000"/>
<rect x="0" y="0" width="1.2" height="393" fill="#000"/>
<rect x="518.7" y="0" width="1.3" height="393" fill="#000"/>
<rect x="0" y="391.6" width="520" height="1.4" fill="#000"/>
</svg></body></html>
